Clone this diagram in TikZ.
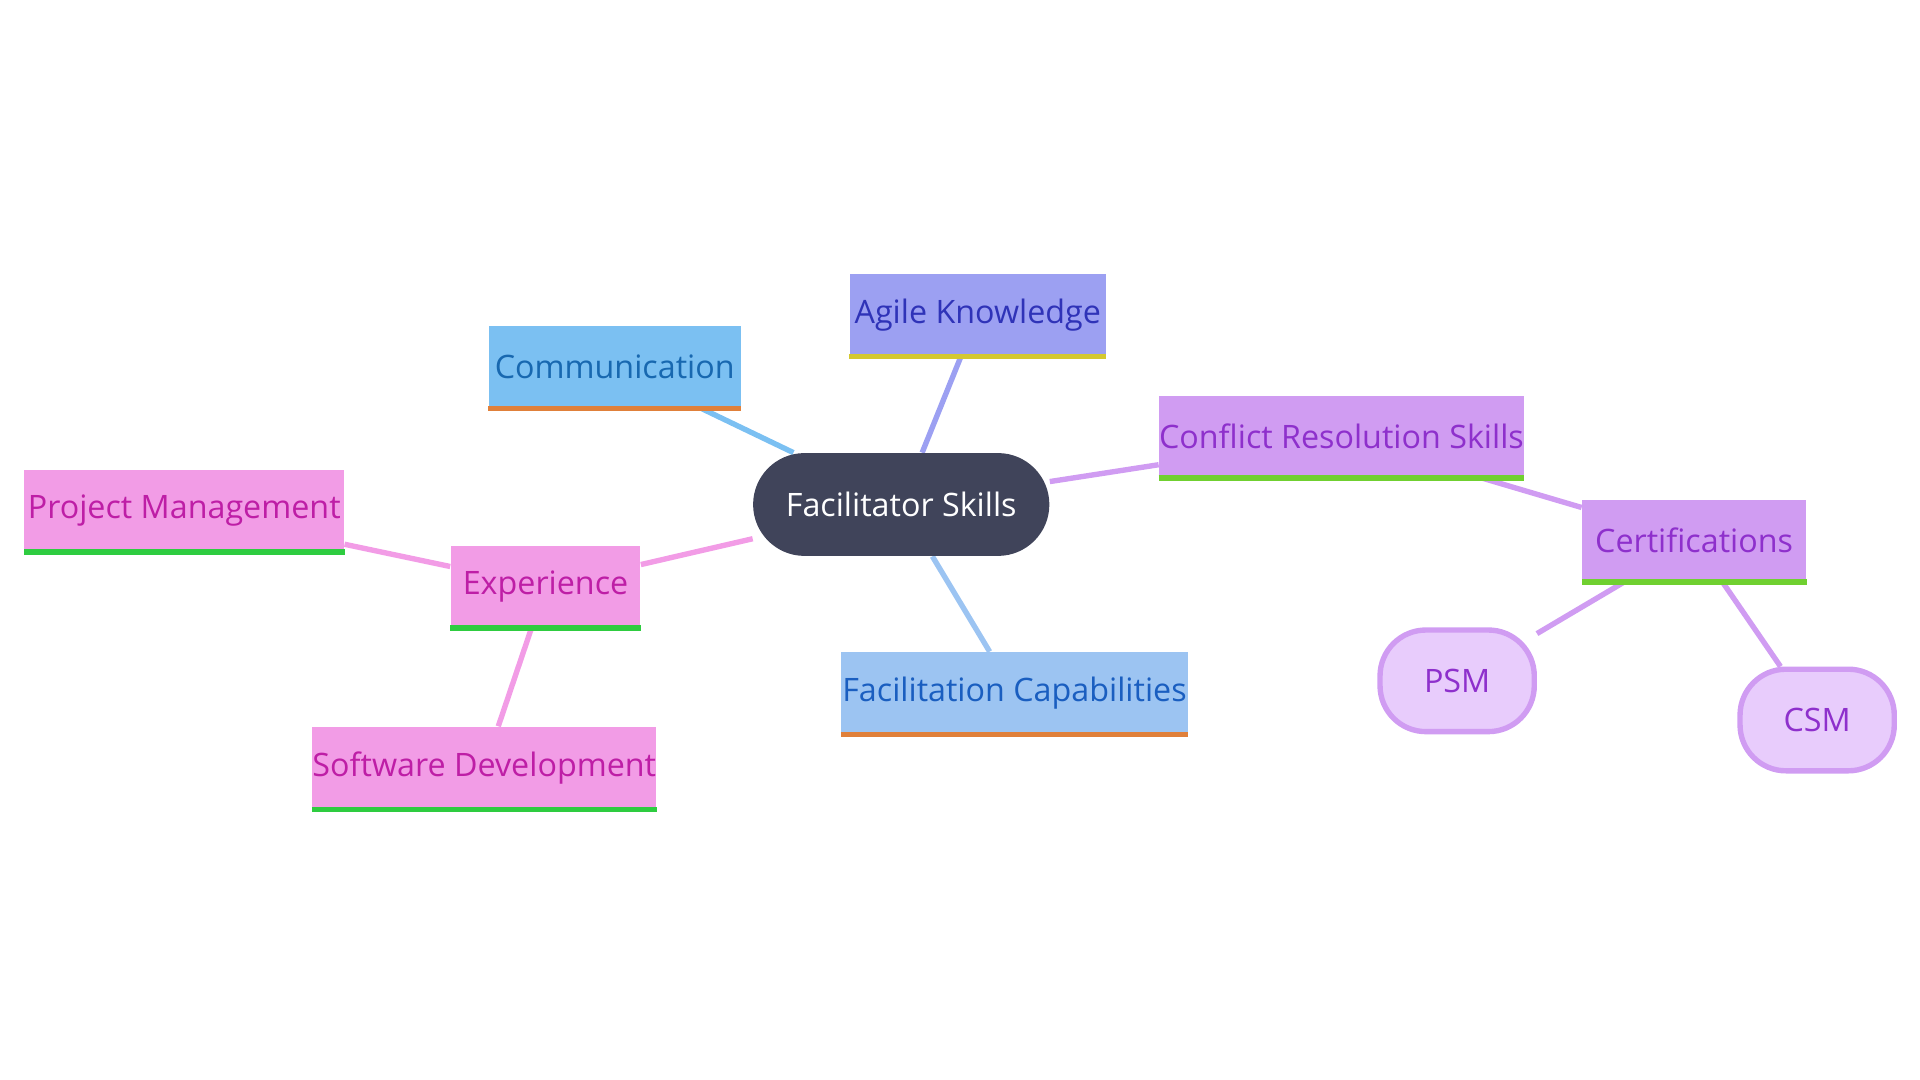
\documentclass[tikz,border=0pt]{standalone}
\usepackage{fontspec}
\setmainfont{Open Sans}
\usetikzlibrary{backgrounds}
\definecolor{hub}{HTML}{40445A}
\definecolor{agileF}{HTML}{9CA0F2}\definecolor{agileT}{HTML}{2F33B8}
\definecolor{commF}{HTML}{7BC0F2}\definecolor{commT}{HTML}{1868B0}
\definecolor{confF}{HTML}{D09CF2}\definecolor{confT}{HTML}{8E30CC}
\definecolor{expF}{HTML}{F29CE6}\definecolor{expT}{HTML}{BE1EA6}
\definecolor{facF}{HTML}{9CC4F2}\definecolor{facT}{HTML}{1A5EC0}
\definecolor{pillF}{HTML}{E8CCFC}
\definecolor{barY}{HTML}{D4C830}\definecolor{barO}{HTML}{E0803A}\definecolor{barG}{HTML}{2ECC40}\definecolor{barL}{HTML}{70D030}
\tikzstyle{box}=[rectangle,inner sep=0pt,minimum height=1.34cm,font=\fontsize{15}{18}\selectfont]
\tikzstyle{pill}=[rounded corners=0.75cm,fill=pillF,draw=confF,line width=2.5pt,inner sep=0pt,minimum height=1.66cm,minimum width=2.52cm,text=confT,font=\fontsize{15}{18}\selectfont]
\tikzstyle{edge}=[line width=2.5pt]
\begin{document}
\begin{tikzpicture}[x=0.02cm,y=-0.02cm]
    \useasboundingbox (0,0) rectangle (1568,882);

    \node[rounded corners=0.84cm,fill=hub,text=white,minimum width=4.84cm,minimum height=1.68cm,inner sep=0pt,font=\fontsize{15}{18}\selectfont] (hub) at (736,412) {Facilitator Skills};

    \foreach \x/\y/\w/\name/\col/\bar/\txt in {
        798.5/257/209/agile/agile/barY/Agile Knowledge,
        502/299.5/206/comm/comm/barO/Communication,
        1095.5/356.5/297/conf/conf/barL/Conflict Resolution Skills,
        1383.5/441.5/183/cert/conf/barL/Certifications,
        445.5/479/155/exp/exp/barG/Experience,
        150.5/417/261/pm/exp/barG/Project Management,
        395.5/627/281/sd/exp/barG/Software Development,
        828.5/566/283/fac/fac/barO/Facilitation Capabilities}
    {
        \node[box,fill=\col F,text=\col T,minimum width=\w*0.02cm] (\name) at (\x,\y) {\txt};
        \draw[\bar,line width=2.4pt] (\name.south west) -- (\name.south east);
    }

    \node[pill] (psm) at (1190,556) {PSM};
    \node[pill] (csm) at (1484,588) {CSM};

    \begin{scope}[on background layer]
    \foreach \source/\dest/\col in {hub/agile/agileF, hub/comm/commF, hub/conf/confF, hub/exp/expF, hub/fac/facF,
        exp/pm/expF, exp/sd/expF, conf/cert/confF, cert/psm/confF, cert/csm/confF}
        \draw[edge,\col] (\source) -- (\dest);
    \end{scope}
\end{tikzpicture}
\end{document}
